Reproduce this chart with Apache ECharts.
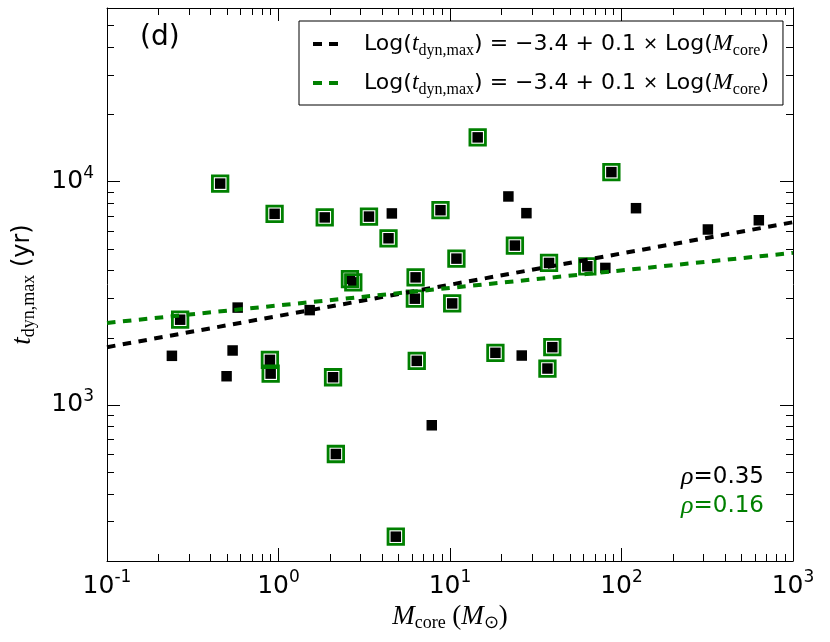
<!DOCTYPE html>
<html><head><meta charset="utf-8">
<script src="https://cdn.jsdelivr.net/npm/echarts@6/dist/echarts.min.js"></script>
<style>html,body{margin:0;padding:0;background:#fff}#c{width:830px;height:642px}</style>
</head><body><div id="c"></div>
<script>
// Cores in the subset (green-outlined squares)
const subsetMass = [0.457, 0.949, 1.86, 0.267, 0.891, 0.90, 2.08, 6.40, 2.16, 4.83, 14.5, 3.37, 8.80, 4.38, 10.9, 23.9, 37.8, 2.61, 2.73, 6.30, 6.24, 10.3, 87.3, 63.2, 18.4, 39.5, 37.0];
const subsetTdyn = [9810, 7180, 6920, 2410, 1592, 1382, 1331, 1576, 603, 257, 15800, 6980, 7455, 5580, 4524, 5176, 4326, 3665, 3541, 3729, 2993, 2850, 11040, 4180, 1712, 1815, 1456];
// Remaining cores (black squares only)
const otherMass = [0.578, 1.52, 0.239, 0.540, 0.498, 7.83, 4.58, 21.9, 27.9, 121.5, 80.5, 26.2, 319, 632];
const otherTdyn = [2730, 2660, 1660, 1754, 1345, 811, 7210, 8590, 7230, 7610, 4110, 1665, 6110, 6722];
// Fit lines (end points)
const fitMass = [0.1, 1000];
const fitAllTdyn = [1815, 6585];
const fitSubsetTdyn = [2330, 4800];
// Ticks
const xMajorTicks = [0.1, 1, 10, 100, 1000];
const xMinorTicks = [0.2,0.3,0.4,0.5,0.6,0.7,0.8,0.9, 2,3,4,5,6,7,8,9, 20,30,40,50,60,70,80,90, 200,300,400,500,600,700,800,900];
const yMajorTicks = [1000, 10000];
const yMinorTicks = [300,400,500,600,700,800,900, 2000,3000,4000,5000,6000,7000,8000,9000, 20000,30000,40000,50000];
const xRange = [0.1, 1000];
const yRange = [200, 60000];
const rhoAll = '0.35', rhoSubset = '0.16';
const panelLabel = '(d)';

const SANS = 'DejaVu Sans';
const SERIF = 'Liberation Serif';
const GREEN = '#008000';

const tickRich = {
  b: {fontFamily: SANS, fontSize: 25, lineHeight: 34, color: '#000'},
  s: {fontFamily: SANS, fontSize: 17, lineHeight: 17, verticalAlign: 'top', color: '#000'}
};
const powLabel = v => '{b|10}{s|' + Math.round(Math.log10(v)) + '}';

function axisSet(dim, pos, major, showMain) {
  const range = dim === 'x' ? xRange : yRange;
  return {
    type: 'log', logBase: 10, min: range[0], max: range[1], position: pos,
    splitLine: {show: false}, minorTick: {show: false},
    axisLine: {show: showMain, lineStyle: {color: '#000', width: 1}},
    axisTick: {show: true, inside: true, length: major ? 13 : 7,
      lineStyle: {color: '#000', width: 1},
      customValues: major ? (dim === 'x' ? xMajorTicks : yMajorTicks) : (dim === 'x' ? xMinorTicks : yMinorTicks)},
    axisLabel: {show: false}
  };
}

const xMain = axisSet('x', 'bottom', true, true);
xMain.axisLabel = {show: true, customValues: xMajorTicks, formatter: powLabel, rich: tickRich, margin: 8};
xMain.name = '{i|M}{sub|core}{n| (}{i|M}{sub|\u2299}{n|)}';
xMain.nameLocation = 'middle';
xMain.nameGap = 35;
xMain.nameTextStyle = {rich: {
  i: {fontFamily: SERIF, fontStyle: 'italic', fontSize: 27, lineHeight: 30, color: '#000'},
  n: {fontFamily: SERIF, fontSize: 27, lineHeight: 30, color: '#000'},
  sub: {fontFamily: SERIF, fontSize: 18, lineHeight: 14, verticalAlign: 'bottom', color: '#000'}
}};

const yMain = axisSet('y', 'left', true, true);
yMain.axisLabel = {show: true, customValues: yMajorTicks, formatter: powLabel, rich: tickRich, margin: 13};
yMain.name = '{i|t}{sub|dyn,max}{n| (yr)}';
yMain.nameLocation = 'middle';
yMain.nameRotate = 90;
yMain.nameGap = 69;
yMain.nameTextStyle = {rich: {
  i: {fontFamily: SERIF, fontStyle: 'italic', fontSize: 27, lineHeight: 30, color: '#000'},
  n: {fontFamily: SANS, fontSize: 24, lineHeight: 30, color: '#000'},
  sub: {fontFamily: SERIF, fontSize: 18, lineHeight: 14, verticalAlign: 'bottom', color: '#000'}
}};

const legendLabel = '{p| }{n|Log(}{i|t}{sub|dyn,max}{n|) = \u22123.4 + 0.1 }{x|\u00d7}{n| Log(}{i|M}{sub|core}{n|)}';

const allData = subsetMass.map((m, i) => [m, subsetTdyn[i]]).concat(otherMass.map((m, i) => [m, otherTdyn[i]]));
const subsetData = subsetMass.map((m, i) => [m, subsetTdyn[i]]);

const option = {
  animation: false,
  backgroundColor: '#fff',
  grid: {left: 107, right: 37, top: 8, bottom: 81, show: false},
  xAxis: [xMain, axisSet('x', 'bottom', false, false), axisSet('x', 'top', true, true), axisSet('x', 'top', false, false)],
  yAxis: [yMain, axisSet('y', 'left', false, false), axisSet('y', 'right', true, true), axisSet('y', 'right', false, false)],
  title: [
    {text: panelLabel, left: 135, top: 19, textStyle: {fontFamily: SANS, fontSize: 28, fontWeight: 'normal', color: '#000'}},
    {text: '{r|\u03c1}{k|=' + rhoAll + '}\n{rg|\u03c1}{kg|=' + rhoSubset + '}', right: 61, top: 458,
     textStyle: {fontWeight: 'normal', rich: {
       r: {fontFamily: SERIF, fontStyle: 'italic', fontWeight: 'normal', fontSize: 26, lineHeight: 29, color: '#000'},
       k: {fontFamily: SANS, fontWeight: 'normal', fontSize: 23, lineHeight: 29, color: '#000'},
       rg: {fontFamily: SERIF, fontStyle: 'italic', fontWeight: 'normal', fontSize: 26, lineHeight: 29, color: GREEN},
       kg: {fontFamily: SANS, fontWeight: 'normal', fontSize: 23, lineHeight: 29, color: GREEN}
     }}}
  ],
  legend: {
    left: 299, top: 21, orient: 'vertical', itemWidth: 27, itemHeight: 4, itemGap: 12,
    padding: [11, 14, 7, 14], borderColor: '#000', borderWidth: 1, borderRadius: 0, backgroundColor: '#fff',
    data: ['fitAll', 'fitSubset'],
    icon: 'path://M0,0h9v4h-9zM16,0h9v4h-9z',
    formatter: () => legendLabel,
    textStyle: {rich: {
      p: {width: 20},
      n: {fontFamily: SANS, fontSize: 22, lineHeight: 30, color: '#000'},
      x: {fontFamily: SANS, fontSize: 18, lineHeight: 30, color: '#000'},
      i: {fontFamily: SERIF, fontStyle: 'italic', fontSize: 24, lineHeight: 30, color: '#000'},
      sub: {fontFamily: SERIF, fontSize: 16, lineHeight: 12, verticalAlign: 'bottom', color: '#000'}
    }}
  },
  series: [
    {type: 'scatter', name: 'all', data: allData, symbol: 'rect', symbolSize: 10.5,
     itemStyle: {color: '#000', opacity: 1}, z: 2, silent: true},
    {type: 'scatter', name: 'subset', data: subsetData, symbol: 'rect', symbolSize: 15.5,
     itemStyle: {color: 'rgba(0,0,0,0)', borderColor: GREEN, borderWidth: 2.8, opacity: 1}, z: 3, silent: true},
    {type: 'line', name: 'fitAll', data: fitMass.map((m, i) => [m, fitAllTdyn[i]]), symbol: 'none',
     lineStyle: {color: '#000', width: 4, type: [8.5, 7.5]}, itemStyle: {color: '#000'}, z: 4, silent: true},
    {type: 'line', name: 'fitSubset', data: fitMass.map((m, i) => [m, fitSubsetTdyn[i]]), symbol: 'none',
     lineStyle: {color: GREEN, width: 4, type: [8.5, 7.5]}, itemStyle: {color: GREEN}, z: 4, silent: true}
  ]
};
const chart = echarts.init(document.getElementById('c'));
chart.setOption(option);
</script></body></html>
